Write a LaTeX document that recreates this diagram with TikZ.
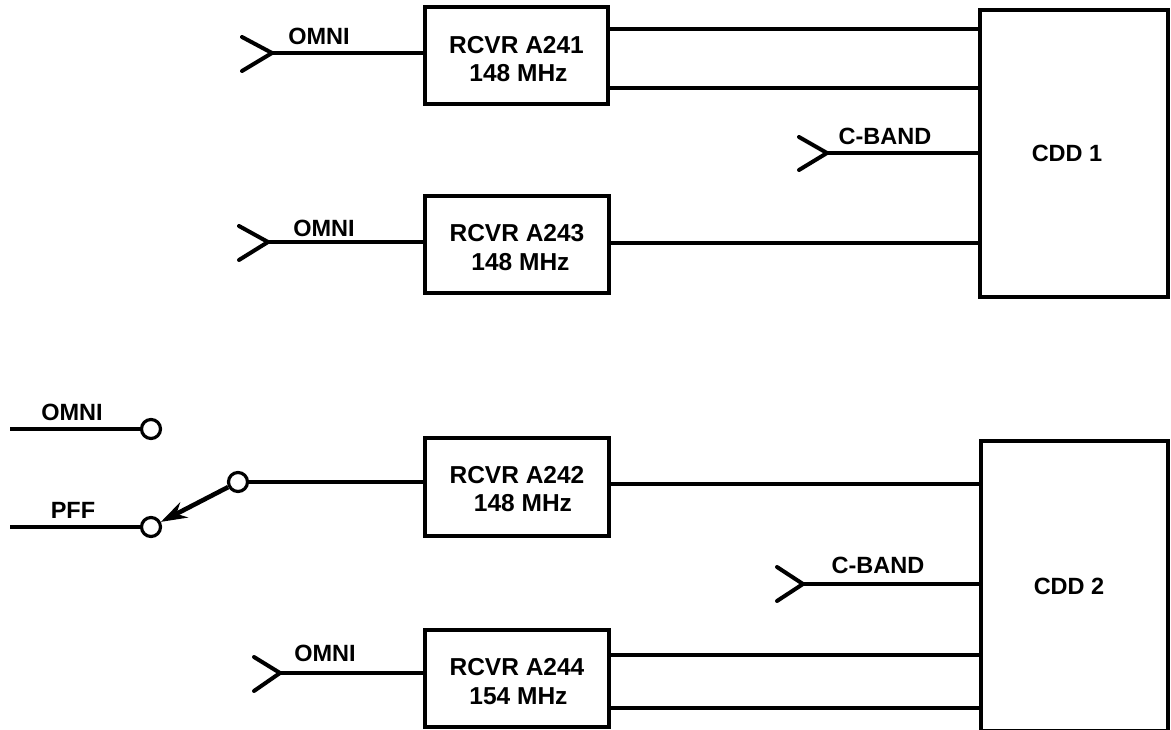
\documentclass[tikz,border=0pt]{standalone}
\usepackage{fontspec}
\setmainfont{Liberation Sans}
\usetikzlibrary{arrows.meta}
\tikzset{
  x=1pt,y=-1pt,
  boxn/.style={draw=black,line width=3.4pt,fill=white,inner sep=0pt},
  boxt/.style={inner sep=0pt,align=center,font=\fontsize{24.5}{28.5}\selectfont\bfseries},
  wire/.style={draw=black,line width=4pt},
  thinwire/.style={draw=black,line width=3.2pt},
  lab/.style={inner sep=0pt,font=\fontsize{23.5}{28}\selectfont\bfseries},
  term/.style={circle,draw=black,line width=3.2pt,fill=white,minimum size=19pt,inner sep=0pt},
  ant/.style={draw=black,line width=4pt,line cap=round},
  blade/.style={draw=black,line width=4.6pt,-{Stealth[length=26pt,width=17pt]}}
}
\newcommand{\bx}[7]{\node[boxn,minimum width=#4 pt,minimum height=#5 pt] (#1) at (#2,#3) {};
  \node[boxt,yshift=-#7 pt] (#1t) at (#1) {#6};}
\begin{document}
\begin{tikzpicture}
\useasboundingbox (0,0) rectangle (1171,730);
\clip (0,0) rectangle (1171,730);
\bx{ra}{516.5}{55.5}{183}{97}{RCVR A241\\\hspace*{4pt}148 MHz}{3.5}
\bx{rb}{517}{244.5}{184}{97}{RCVR A243\\\hspace*{7pt}148 MHz}{3}
\bx{rc}{517}{487}{184}{98}{RCVR A242\\\hspace*{12pt}148 MHz}{2}
\bx{rd}{517}{678.5}{184}{97}{RCVR A244\\\hspace*{3pt}154 MHz}{3}
\node[boxn,minimum width=188pt,minimum height=287pt] (ca) at (1074,153.5) {};
\node[boxn,minimum width=187pt,minimum height=290pt] (cb) at (1074.5,586) {};
\node[lab] (cal) at (1067,153) {CDD 1};
\node[lab] (cbl) at (1069,586) {CDD 2};
% antennas
\coordinate (a1) at (272,53);
\coordinate (a2) at (268,242);
\coordinate (a3) at (827,153);
\coordinate (a4) at (803,584);
\coordinate (a5) at (280,673);
\draw[ant] (242,37) -- (a1) -- (242,71);
\draw[ant] (239,226) -- (a2) -- (239,260);
\draw[ant] (799,137) -- (a3) -- (799,170);
\draw[ant] (777,567) -- (a4) -- (777,601);
\draw[ant] (254,657) -- (a5) -- (254,691);
% wires
\draw[wire] (a1) -- (a1-|ra.west);
\draw[wire] (a2) -- (a2-|rb.west);
\draw[wire] (a3) -- (a3-|ca.west);
\draw[wire] (a4) -- (a4-|cb.west);
\draw[wire] (a5) -- (a5-|rd.west);
\coordinate (p1) at (608,29); \draw[wire] (p1) -- (p1-|ca.west);
\coordinate (p2) at (608,88); \draw[wire] (p2) -- (p2-|ca.west);
\coordinate (p3) at (609,243); \draw[wire] (p3) -- (p3-|ca.west);
\coordinate (p4) at (609,484); \draw[wire] (p4) -- (p4-|cb.west);
\coordinate (p5) at (609,655); \draw[wire] (p5) -- (p5-|cb.west);
\coordinate (p6) at (609,708); \draw[wire] (p6) -- (p6-|cb.west);
% switch
\node[term] (t1) at (151,429) {};
\node[term] (t2) at (151,527) {};
\node[term] (t3) at (238,482) {};
\coordinate (s1) at (10,429);
\coordinate (s2) at (10,527);
\draw[wire] (s1) -- (t1);
\draw[wire] (s2) -- (t2);
\draw[thinwire] (t3) -- (t3-|rc.west);
\draw[blade] (t3) -- (t2);
% labels
\node[lab] (l1) at (319,36) {OMNI};
\node[lab] (l2) at (324,228) {OMNI};
\node[lab] (l3) at (885,136) {C-BAND};
\node[lab] (l4) at (878,565) {C-BAND};
\node[lab] (l5) at (325,653) {OMNI};
\node[lab] (l6) at (72,412) {OMNI};
\node[lab] (l7) at (73,510) {PFF};
\end{tikzpicture}
\end{document}
